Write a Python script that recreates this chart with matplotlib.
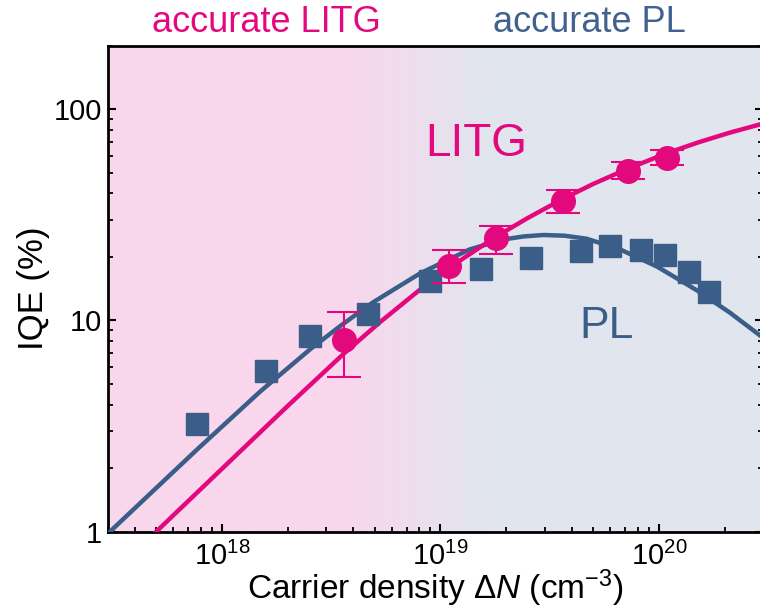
import matplotlib
matplotlib.use("Agg")
import matplotlib.pyplot as plt
import numpy as np
from matplotlib.colors import LinearSegmentedColormap

plt.rcParams['font.family'] = ['Liberation Sans', 'DejaVu Sans']
plt.rcParams['mathtext.fontset'] = 'custom'
plt.rcParams['mathtext.rm'] = 'Liberation Sans'
plt.rcParams['mathtext.it'] = 'Liberation Sans:italic'

MAGENTA = '#E4087F'
BLUE = '#3A5E88'

# PL measured data (squares)
pl_x = [7.7e17, 1.59e18, 2.54e18, 4.68e18, 9.0e18, 1.54e19, 2.59e19, 4.39e19,
        6.0e19, 8.3e19, 1.07e20, 1.37e20, 1.7e20]
pl_y = [3.23, 5.75, 8.4, 10.7, 15.4, 17.6, 19.8, 21.4, 22.6, 21.6, 20.5, 16.9, 13.6]

# LITG measured data (circles) with asymmetric error bars
litg_x = [3.6e18, 1.09e19, 1.79e19, 3.63e19, 7.2e19, 1.09e20]
litg_y = [8.1, 18.2, 24.6, 36.8, 51.0, 58.7]
litg_lo = [5.4, 15.1, 20.7, 32.3, 46.7, 54.4]
litg_hi = [11.0, 21.6, 28.1, 41.5, 56.2, 64.1]

# Fitted curves
pl_fit_x = [3.07e17, 7.66e17, 1.5e18, 2.55e18, 3.5e18, 4.92e18, 8.06e18, 1.36e19,
            1.95e19, 2.4e19, 2.96e19, 3.7e19, 4.66e19, 6.64e19, 9.8e19, 1.49e20,
            2.11e20, 2.9e20]
pl_fit_y = [1.0, 2.44, 4.62, 7.35, 9.46, 12.2, 16.7, 21.7,
            24.2, 25.0, 25.4, 25.2, 24.4, 21.7, 18.0, 13.9,
            10.9, 8.5]
litg_fit_x = [5.0e17, 2.0e18, 3.63e18, 5.3e18, 8.06e18, 1.2e19, 1.77e19, 2.5e19,
              3.59e19, 5.0e19, 7.16e19, 1.08e20, 1.5e20, 2.1e20, 2.9e20]
litg_fit_y = [1.0, 3.94, 7.0, 9.84, 14.0, 18.9, 24.7, 30.5,
              37.4, 44.3, 52.2, 61.8, 69.5, 77.4, 84.8]

xlim = (3e17, 3e20)
ylim = (1, 200)
xticks = [1e18, 1e19, 1e20]
xticklabels = [r'$10^{18}$', r'$10^{19}$', r'$10^{20}$']
yticks = [1, 10, 100]
yticklabels = ['1', '10', '100']

fig = plt.figure(figsize=(7.6, 6.13), dpi=100)
ax = fig.add_axes([107.7 / 760, 81.3 / 613, 655.5 / 760, 486 / 613])

# background gradient
pink = np.array([249, 215, 236]) / 255
gray = np.array([225, 229, 238]) / 255
cmap = LinearSegmentedColormap.from_list('bg', [(0, pink), (0.36, pink), (0.58, gray), (1, gray)])
grad = np.linspace(0, 1, 512).reshape(1, -1)
ax.imshow(grad, cmap=cmap, aspect='auto', extent=[0, 1, 0, 1],
          transform=ax.transAxes, zorder=0, interpolation='bilinear')

ax.set_xscale('log')
ax.set_yscale('log')

ax.plot(pl_fit_x, pl_fit_y, color=BLUE, lw=3.2, zorder=3, solid_joinstyle='round')
ax.plot(litg_fit_x, litg_fit_y, color=MAGENTA, lw=3.2, zorder=3, solid_joinstyle='round')

ax.plot(pl_x, pl_y, ls='none', marker='s', ms=16, color=BLUE, mec=BLUE, zorder=4)
yerr = [np.array(litg_y) - np.array(litg_lo), np.array(litg_hi) - np.array(litg_y)]
ax.errorbar(litg_x, litg_y, yerr=yerr, fmt='o', ms=17, color=MAGENTA, ecolor=MAGENTA,
            elinewidth=1.5, capsize=12, capthick=1.5, zorder=5)

ax.set_xlim(*xlim)
ax.set_ylim(*ylim)
ax.set_xticks(xticks)
ax.set_xticklabels(xticklabels)
ax.set_yticks(yticks)
ax.set_yticklabels(yticklabels)

ax.tick_params(which='major', direction='in', length=6, width=1.5, labelsize=21,
               right=True, top=False)
ax.tick_params(axis='x', which='major', pad=7)
ax.tick_params(axis='y', which='major', pad=4)
ax.tick_params(which='minor', direction='in', length=3.5, width=1.3, right=True, top=False)
for s in ax.spines.values():
    s.set_linewidth(2.0)

ax.set_xlabel(r'Carrier density $\Delta\mathit{N}$ (cm$^{-3}$)', fontsize=24, labelpad=-2)
ax.set_ylabel('IQE (%)', fontsize=25, labelpad=3)

ax.text(0.485, 0.773, 'LITG', transform=ax.transAxes, color=MAGENTA, fontsize=33)
ax.text(0.719, 0.399, 'PL', transform=ax.transAxes, color=BLUE, fontsize=32)

fig.text(266 / 760, 1 - 32 / 613, 'accurate LITG', color=MAGENTA, fontsize=26,
         ha='center', va='baseline')
fig.text(589 / 760, 1 - 32 / 613, 'accurate PL', color='#41628E', fontsize=26,
         ha='center', va='baseline')

fig.savefig('out.png', dpi=100)
